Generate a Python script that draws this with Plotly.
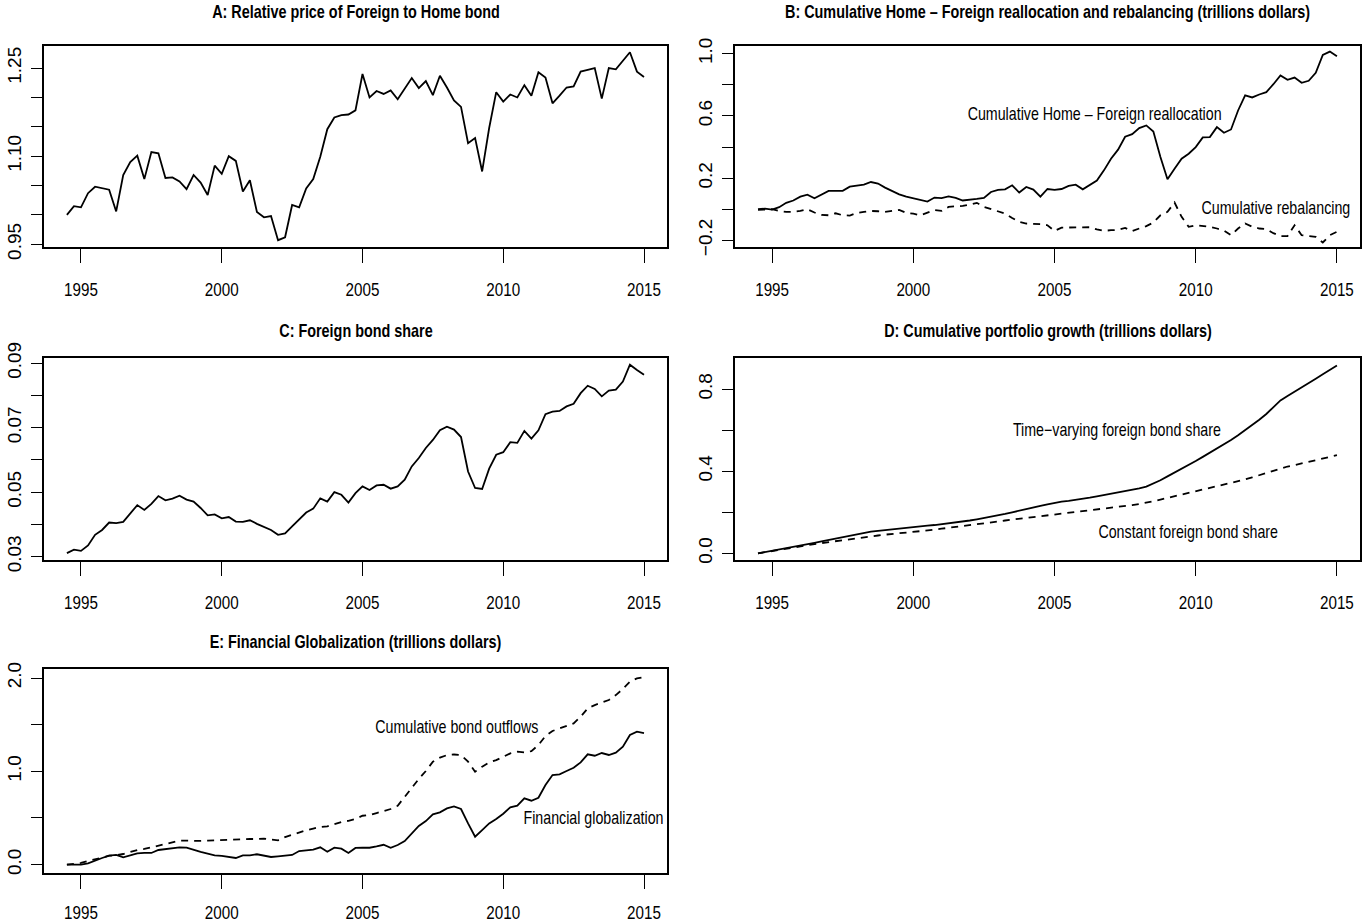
import plotly.graph_objects as go

# Quarterly time index, 1994Q3 .. 2015Q1
quarters = [1994.5 + 0.25 * i for i in range(83)]

# A: relative price of Foreign to Home bond
relative_price = [
    1.000, 1.015, 1.013, 1.037, 1.048, 1.046, 1.043, 1.006, 1.068, 1.090,
    1.101, 1.061, 1.107, 1.105, 1.063, 1.064, 1.057, 1.044, 1.068, 1.055,
    1.034, 1.084, 1.070, 1.100, 1.092, 1.040, 1.059, 1.005, 0.996, 0.998,
    0.957, 0.962, 1.017, 1.013, 1.045, 1.061, 1.099, 1.146, 1.166, 1.170,
    1.171, 1.178,
    1.240, 1.200, 1.211, 1.206, 1.212, 1.197, 1.216, 1.233, 1.216, 1.228,
    1.204, 1.237, 1.217, 1.195, 1.184, 1.122, 1.131, 1.074, 1.148, 1.209,
    1.193, 1.205, 1.200, 1.221, 1.203, 1.243, 1.234, 1.190, 1.203, 1.217,
    1.219, 1.244, 1.247, 1.250, 1.198, 1.250, 1.248, 1.262, 1.277, 1.244,
    1.235,
]

# B: cumulative Home - Foreign reallocation and rebalancing (trillions)
reallocation = [
    0.000, 0.004, -0.002, 0.013, 0.041, 0.056, 0.081, 0.094, 0.071, 0.094,
    0.118, 0.118, 0.118, 0.145, 0.152, 0.158, 0.175, 0.165, 0.139, 0.116,
    0.096, 0.081, 0.071, 0.060, 0.049, 0.075, 0.071, 0.083, 0.073, 0.056,
    0.060, 0.066, 0.073, 0.111, 0.124, 0.128, 0.154, 0.107, 0.143, 0.126,
    0.081, 0.130,
    0.124, 0.130, 0.150, 0.158, 0.128, 0.154, 0.184, 0.250, 0.325, 0.383,
    0.466, 0.483, 0.522, 0.539, 0.500, 0.336, 0.193, 0.261, 0.325, 0.357,
    0.400, 0.462, 0.464, 0.528, 0.492, 0.513, 0.635, 0.732, 0.719, 0.738,
    0.753, 0.804, 0.860, 0.832, 0.847, 0.813, 0.826, 0.877, 0.993, 1.014,
    0.984,
]
rebalancing = [
    -0.004, -0.004, 0.000, -0.011, -0.017, -0.017, -0.011, 0.000, -0.021, -0.036,
    -0.039, -0.026, -0.039, -0.041, -0.024, -0.017, -0.011, -0.013, -0.017, -0.011,
    -0.004, -0.024, -0.028, -0.039, -0.024, -0.006, -0.011, 0.015, 0.019, 0.021,
    0.030, 0.041, 0.015, 0.000, -0.013, -0.028, -0.056, -0.081, -0.092, -0.092,
    -0.096, -0.103,
    -0.140, -0.118, -0.118, -0.120, -0.120, -0.116, -0.130, -0.139, -0.135, -0.133,
    -0.120, -0.141, -0.124, -0.109, -0.086, -0.039, -0.017, 0.043, -0.049, -0.113,
    -0.103, -0.109, -0.113, -0.124, -0.137, -0.167, -0.124, -0.092, -0.113, -0.124,
    -0.128, -0.154, -0.173, -0.173, -0.103, -0.167, -0.173, -0.178, -0.214, -0.167,
    -0.145,
]

# C: foreign bond share
foreign_share = [
    0.0311, 0.0322, 0.0318, 0.0335, 0.0368, 0.0383, 0.0406, 0.0404, 0.0408, 0.0434,
    0.0460, 0.0445, 0.0464, 0.0488, 0.0475, 0.0480, 0.0489, 0.0477, 0.0471, 0.0451,
    0.0428, 0.0431, 0.0419, 0.0423, 0.0409, 0.0408, 0.0413, 0.0402, 0.0393, 0.0383,
    0.0368, 0.0372, 0.0394, 0.0415, 0.0437, 0.0449, 0.0481, 0.0471, 0.0500, 0.0492,
    0.0468, 0.0497,
    0.0518, 0.0507, 0.0521, 0.0523, 0.0511, 0.0518, 0.0539, 0.0580, 0.0606, 0.0637,
    0.0662, 0.0692, 0.0703, 0.0694, 0.0671, 0.0564, 0.0513, 0.0510, 0.0573, 0.0616,
    0.0624, 0.0655, 0.0653, 0.0690, 0.0666, 0.0692, 0.0742, 0.0750, 0.0752, 0.0766,
    0.0774, 0.0807, 0.0830, 0.0820, 0.0797, 0.0815, 0.0818, 0.0843, 0.0895, 0.0879,
    0.0864,
]

# D: cumulative portfolio growth (trillions)
growth_varying = [
    0.000, 0.006, 0.013, 0.019, 0.025, 0.031, 0.038, 0.045, 0.051, 0.058,
    0.065, 0.072, 0.080, 0.087, 0.095, 0.101, 0.106, 0.110, 0.114, 0.117,
    0.121, 0.124, 0.127, 0.131, 0.135, 0.138, 0.142, 0.146, 0.151, 0.155,
    0.160, 0.166, 0.172, 0.178, 0.185, 0.192, 0.200, 0.207, 0.215, 0.223,
    0.231, 0.239, 0.247, 0.252, 0.256, 0.260, 0.265, 0.271, 0.277, 0.283,
    0.290, 0.296, 0.303, 0.309, 0.316, 0.325, 0.339, 0.356, 0.375, 0.393,
    0.412, 0.431, 0.450, 0.470, 0.490, 0.510, 0.530, 0.552, 0.575, 0.599,
    0.625, 0.651, 0.679, 0.710, 0.745, 0.767, 0.787, 0.808, 0.830, 0.851,
    0.872, 0.894, 0.915,
]
growth_constant = [
    0.000, 0.006, 0.012, 0.017, 0.023, 0.028, 0.034, 0.039, 0.045, 0.050,
    0.055, 0.060, 0.065, 0.069, 0.074, 0.078, 0.083, 0.087, 0.091, 0.094,
    0.097, 0.100, 0.103, 0.107, 0.111, 0.115, 0.120, 0.124, 0.129, 0.133,
    0.138, 0.142, 0.146, 0.151, 0.155, 0.160, 0.164, 0.169, 0.173, 0.177,
    0.182, 0.186, 0.190, 0.194, 0.198, 0.201, 0.205, 0.209, 0.212, 0.216,
    0.220, 0.225, 0.230, 0.235, 0.240, 0.246, 0.254, 0.262, 0.270, 0.278,
    0.286, 0.294, 0.302, 0.310, 0.317, 0.325, 0.333, 0.342, 0.351, 0.360,
    0.370, 0.381, 0.392, 0.404, 0.415, 0.423, 0.430, 0.438, 0.445, 0.453,
    0.461, 0.470, 0.478,
]

# E: financial globalization (trillions)
globalization = [
    0.000, 0.000, 0.000, 0.014, 0.046, 0.071, 0.096, 0.104, 0.079, 0.096,
    0.121, 0.125, 0.125, 0.157, 0.164, 0.171, 0.186, 0.182, 0.157, 0.136,
    0.118, 0.100, 0.093, 0.082, 0.071, 0.100, 0.100, 0.111, 0.100, 0.082,
    0.089, 0.093, 0.104, 0.146, 0.157, 0.161, 0.186, 0.139, 0.182, 0.171,
    0.125, 0.179,
    0.181, 0.181, 0.195, 0.213, 0.181, 0.210, 0.252, 0.335, 0.414, 0.467,
    0.539, 0.560, 0.603, 0.624, 0.596, 0.442, 0.299, 0.370, 0.442, 0.489,
    0.546, 0.614, 0.632, 0.710, 0.685, 0.717, 0.853, 0.960, 0.968, 1.003,
    1.038, 1.096, 1.182, 1.167, 1.196, 1.175, 1.200, 1.264, 1.389, 1.425,
    1.410,
]
bond_outflows = [
    0.000, 0.011, 0.018, 0.039, 0.054, 0.075, 0.096, 0.100, 0.114, 0.136,
    0.157, 0.168, 0.186, 0.207, 0.221, 0.239, 0.257, 0.257, 0.254, 0.254,
    0.257, 0.261, 0.261, 0.268, 0.268, 0.271, 0.275, 0.275, 0.279, 0.268,
    0.261, 0.296, 0.321, 0.350, 0.368, 0.386, 0.404, 0.411, 0.436, 0.457,
    0.470, 0.490,
    0.524, 0.531, 0.553, 0.573, 0.596, 0.631, 0.728, 0.817, 0.918, 1.003,
    1.103, 1.146, 1.174, 1.180, 1.174, 1.103, 0.996, 1.050, 1.096, 1.120,
    1.156, 1.192, 1.210, 1.203, 1.217, 1.282, 1.378, 1.432, 1.460, 1.488,
    1.514, 1.585, 1.675, 1.710, 1.735, 1.764, 1.817, 1.882, 1.960, 1.996,
    2.010,
]

year_ticks = [1995, 2000, 2005, 2010, 2015]

panel_titles = [
    "A: Relative price of Foreign to Home bond",
    "B: Cumulative Home \u2013 Foreign reallocation and rebalancing (trillions dollars)",
    "C: Foreign bond share",
    "D: Cumulative portfolio growth (trillions dollars)",
    "E: Financial Globalization (trillions dollars)",
]

# y tick positions and labels (only some ticks carry a label)
y_tick_vals = [
    [0.95, 1.00, 1.05, 1.10, 1.15, 1.20, 1.25],
    [-0.2, 0.0, 0.2, 0.4, 0.6, 0.8, 1.0],
    [0.03, 0.04, 0.05, 0.06, 0.07, 0.08, 0.09],
    [0.0, 0.2, 0.4, 0.6, 0.8],
    [0.0, 0.5, 1.0, 1.5, 2.0],
]
y_tick_text = [
    ["0.95", "", "", "1.10", "", "", "1.25"],
    ["\u22120.2", "", "0.2", "", "0.6", "", "1.0"],
    ["0.03", "", "0.05", "", "0.07", "", "0.09"],
    ["0.0", "", "0.4", "", "0.8"],
    ["0.0", "", "1.0", "", "2.0"],
]
y_ranges = [
    [0.9454, 1.2885],
    [-0.243, 1.053],
    [0.02898, 0.0916],
    [-0.0324, 0.9516],
    [-0.0896, 2.0964],
]
x_range = [1993.686, 2015.817]

# ---- page geometry (pixels) ----
W, H = 1369, 923
cols = [(44, 667), (735, 1360)]
rows = [(45.5, 247), (358, 560), (669, 873)]
title_y = [12, 331, 642]
label_standoff = [10, 10, 7]
boxes = [(cols[0], 0), (cols[1], 0),
         (cols[0], 1), (cols[1], 1),
         (cols[0], 2)]

FONT = "Liberation Sans, Arial, Helvetica, sans-serif"
LW = 1.8
DASH = "7px,6px"

fig = go.Figure()

series = [
    (0, relative_price, "solid"),
    (1, reallocation, "solid"),
    (1, rebalancing, DASH),
    (2, foreign_share, "solid"),
    (3, growth_varying, "solid"),
    (3, growth_constant, DASH),
    (4, globalization, "solid"),
    (4, bond_outflows, DASH),
]
for panel, values, dash in series:
    sfx = "" if panel == 0 else str(panel + 1)
    fig.add_trace(go.Scatter(
        x=quarters, y=values, mode="lines",
        line=dict(color="black", width=LW, dash=dash),
        xaxis="x" + sfx, yaxis="y" + sfx,
        showlegend=False, hoverinfo="skip",
    ))

layout = dict(
    width=W, height=H,
    margin=dict(l=0, r=0, t=0, b=0, autoexpand=False),
    paper_bgcolor="white", plot_bgcolor="white",
    showlegend=False,
)
annotations = []
for i, ((x0, x1), r) in enumerate(boxes):
    y0, y1 = rows[r]
    sfx = "" if i == 0 else str(i + 1)
    layout["xaxis" + sfx] = dict(
        domain=[x0 / W, x1 / W], anchor="y" + sfx,
        range=x_range, tickmode="array", tickvals=year_ticks,
        ticktext=[str(v) for v in year_ticks],
        ticks="outside", ticklen=14, tickwidth=1.2, tickcolor="black",
        showline=True, mirror=True, linewidth=2, linecolor="black",
        showgrid=False, zeroline=False, automargin=False,
        tickfont=dict(family=FONT, size=19, color="black"),
        ticklabelstandoff=label_standoff[r],
    )
    layout["yaxis" + sfx] = dict(
        domain=[1 - y1 / H, 1 - y0 / H], anchor="x" + sfx,
        range=y_ranges[i], tickmode="array",
        tickvals=y_tick_vals[i], ticktext=y_tick_text[i],
        tickangle=-90,
        ticks="outside", ticklen=11, tickwidth=1.4, tickcolor="black",
        showline=True, mirror=True, linewidth=2, linecolor="black",
        showgrid=False, zeroline=False, automargin=False,
        tickfont=dict(family=FONT, size=19, color="black"),
        ticklabelstandoff=2,
    )
    annotations.append(dict(
        xref="paper", yref="paper",
        x=(x0 + x1) / 2 / W, y=1 - title_y[r] / H,
        xanchor="center", yanchor="middle",
        text="<b>" + panel_titles[i] + "</b>", showarrow=False,
        font=dict(family=FONT, size=18, color="black"),
    ))

# in-panel series labels (data coordinates)
labels = [
    (1, 2006.43, 0.61, "Cumulative Home \u2013 Foreign reallocation"),
    (1, 2012.86, 0.01, "Cumulative rebalancing"),
    (3, 2007.2, 0.60, "Time\u2212varying foreign bond share"),
    (3, 2009.75, 0.105, "Constant foreign bond share"),
    (4, 2008.35, 1.48, "Cumulative bond outflows"),
    (4, 2013.22, 0.50, "Financial globalization"),
]
for panel, lx, ly, txt in labels:
    sfx = "" if panel == 0 else str(panel + 1)
    annotations.append(dict(
        xref="x" + sfx, yref="y" + sfx, x=lx, y=ly,
        xanchor="center", yanchor="middle", text=txt, showarrow=False,
        font=dict(family=FONT, size=17.8, color="black"),
    ))

layout["annotations"] = annotations
fig.update_layout(**layout)

# Horizontal text is set in a condensed (0.8 width) Helvetica style:
# squeeze each label horizontally about its own centre.
condense_js = """
var gd = document.getElementById('{plot_id}');
function condense(selector, k) {
  gd.querySelectorAll(selector).forEach(function (t) {
    var b = t.getBBox();
    var cx = b.x + b.width / 2;
    var tr = t.getAttribute('transform') || '';
    t.setAttribute('transform', tr + ' translate(' + cx + ',0) scale(' + k +
                   ',1) translate(' + (-cx) + ',0)');
  });
}
condense('.xaxislayer-above text', 0.8);
condense('.annotation-text', 0.8);
"""

fig.write_html("out.html", post_script=condense_js)
